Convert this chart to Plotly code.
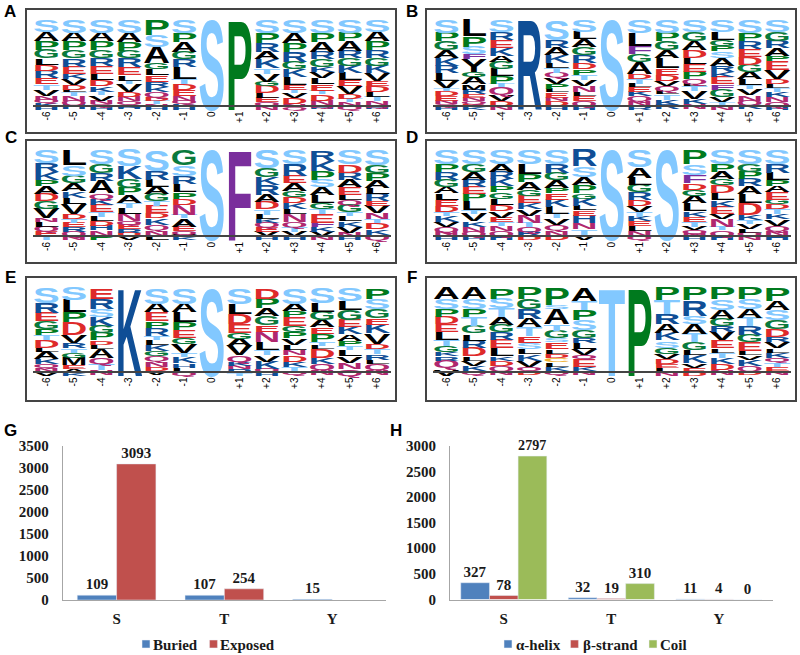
import numpy as np
import plotly.graph_objects as go

POSITIONS = ["-6","-5","-4","-3","-2","-1","0","+1","+2","+3","+4","+5","+6"]

# Sequence logos: letters listed from the top of each stack, heights in percent
A_LETTERS = ["SAPGLDRETVNQKH","SAPGREKVDLTNQH","SAPGRELDKTVNQH","SAPGRELTVDNQKH","PSAGLERKQDTNH","SPAGRLTDENQKH","S","P","SPRAKTVGDLEQN","SAPRGKLETVDNQ","SPARGKVLETDNQH","SPARGKLEVDTNQ","SAPRGKVEDLTNQH"]
A_HEIGHTS = [[13,10,10,10,7,7,8,7,6,7,4,4,4,3],[14,10,10,9,9,8,6,7,5,3,4,5,5,5],[14,10,10,8,9,9,7,7,6,4,6,4,3,3],[14,11,10,8,10,9,6,4,8,6,5,4,3,2],[17,13,18,7,7,7,6,6,5,4,4,3,3],[15,10,11,8,9,13,5,7,7,5,4,3,3],[100],[100],[15,11,10,8,10,6,9,5,8,5,5,4,4],[14,12,10,11,8,9,9,5,4,5,7,3,3],[15,10,11,8,8,6,7,7,7,4,7,5,3,2],[14,10,11,8,8,8,8,7,9,5,4,4,4],[13,11,10,9,8,8,9,6,7,5,5,4,3,2]]

B_LETTERS = ["SPGAKRLVTDENQH","LPSFYGAMRENQDK","SREKAGLPTQVDN","R","SRAKLTQVPLENDH","SLAGRDPTVNLEQH","S","SLFGADTLEKQNR","SPGALEDVQLTKR","SGADLEPQLTVKN","SLGPSARKEFGVTN","SPREDGALTVNQK","SGRAPEVDLTKNQH"]
B_HEIGHTS = [[14,10,10,9,8,8,9,8,3,6,5,4,3,3],[18,12,8,6,14,6,8,6,5,4,4,3,3,3],[13,9,9,9,7,8,8,8,4,9,7,5,4],[100],[22,9,8,9,6,5,5,7,6,4,6,4,5,4],[13,8,9,9,9,7,6,6,7,7,4,6,5,4],[100],[15,14,9,9,13,6,5,4,5,5,6,5,4],[14,10,10,9,11,7,7,6,5,4,6,6,5],[13,10,10,9,7,9,8,5,3,5,9,6,6],[13,9,7,6,7,9,7,6,8,6,8,6,4,4],[14,9,9,9,9,8,8,7,4,7,6,5,5],[13,10,8,9,6,10,10,6,4,4,6,6,5,3]]

C_LETTERS = ["SRKPADGVNLQET","LSGAKLVDTERQN","SGRAQKETLDHNP","SKGPATLNQERDV","SRLAGTEDKQNL","GSRLPDNTAEQVK","S","F","SGKRADTLKQEVH","SREAGDKLNQTVH","RKPSALGTEFKVN","SDRAELQGTLKVNH","SGPALREVNTDKQ"]
C_HEIGHTS = [[14,10,9,7,9,8,8,11,4,5,5,5,5],[17,12,8,9,7,7,11,6,4,5,5,5,4],[16,10,8,14,6,7,8,5,5,5,5,6,5],[18,14,10,8,9,5,7,8,4,5,4,4,4],[23,10,8,8,8,5,8,6,7,6,6,5],[17,12,9,9,7,7,11,4,9,5,4,3,3],[100],[100],[20,10,9,11,8,8,6,5,4,5,5,5,4],[16,13,8,8,7,7,7,5,9,6,5,5,4],[12,11,10,8,9,9,7,5,10,5,5,5,4],[16,9,8,8,9,6,5,8,4,6,6,7,5,3],[17,9,8,8,7,8,5,8,7,4,7,6,6]]

D_LETTERS = ["SPRGALEDTKVQNH","SGAREPLTVKNQH","SARKPGLDVETNQH","SLPAGEKVNTQRD","SRGAPEKLTVQND","RSAPGKLEHNTV","S","SALGRDVTKELNQ","S","PSFDGALKETVQNH","SPAGDLKEVNTQH","SGPRALDKTVLQN","SRLPAEGDTKVQNH"]
D_HEIGHTS = [[15,9,9,8,7,7,7,7,4,7,6,5,5,4],[15,9,9,8,8,8,10,4,8,6,6,5,4],[15,9,8,8,7,7,7,7,7,5,4,6,5,5],[15,12,9,8,7,8,7,7,8,5,5,5,4],[15,10,8,9,6,7,8,8,5,7,6,6,5],[18,12,9,9,6,8,5,6,8,7,6,6],[100],[19,12,8,8,8,7,7,5,5,5,6,6,4],[100],[16,12,9,7,7,8,9,6,6,5,4,4,4,3],[15,9,8,7,9,8,7,8,6,8,4,6,5],[15,9,8,8,9,10,13,6,4,6,4,4,4],[15,10,8,7,7,8,5,6,5,6,7,6,5,5]]

E_LETTERS = ["SREGPTDLAKQNV","SLPDVRTGMEAK","ERSKGPDLAQTN","K","SAEPRTLKGQNDV","SALPEGVTKHLQ","S","SLDEGAVQKNRT","DPAGENLTVKQH","SAPEGPVLNDKTQ","SLGAEPTLDKQN","SLGEKAPTLVNQ","PSGEKVDTRLQN"]
E_HEIGHTS = [[17,11,10,9,7,6,8,5,8,6,5,4,4],[14,14,11,15,9,6,5,6,8,5,4,3],[12,12,9,10,8,9,5,5,10,7,7,6],[100],[18,10,10,8,9,4,6,7,6,6,6,5,5],[18,10,11,9,9,7,10,5,7,5,5,4],[100],[18,12,11,10,7,8,11,7,5,4,4,3],[12,11,9,10,8,12,9,6,7,8,4,4],[18,8,7,10,7,7,8,6,6,7,6,5,5],[17,10,10,8,8,9,4,4,10,7,7,6],[15,10,11,9,8,7,6,5,7,8,7,7],[12,12,10,8,10,12,6,6,6,5,7,6]]

F_LETTERS = ["ASPDELTGKRQV","ASPTGLRDLVKQ","PSTAGRELKDQN","PGRATESLKVQD","PSATGSELDCLKQ","ATPSGRLVQEKN","T","P","PTRAKSGVDELN","PRSATGLKVED","PSAGRVELTKDN","PSATRGELVKQD","PASGDRVLKQTEN"]
F_HEIGHTS = [[13,11,9,8,9,9,7,7,5,5,9,8],[13,11,9,10,9,8,8,10,5,6,6,5],[12,11,10,9,8,9,10,9,5,6,6,5],[13,11,11,10,10,8,7,6,7,7,5,5],[19,5,17,8,8,5,8,5,5,5,5,5,5],[15,10,11,12,9,6,7,7,4,9,5,5],[100],[100],[14,16,11,10,9,8,7,6,6,5,4,4],[14,18,9,11,10,9,6,9,5,5,4],[13,12,10,8,7,10,9,5,6,7,7,6],[13,11,10,10,10,8,10,5,5,7,6,5],[15,10,12,10,9,6,7,5,6,5,5,5,5]]

# Bar charts
RESIDUES = ["S","T","Y"]
BURIED = [109,107,15]
EXPOSED = [3093,254,None]
HELIX = [327,32,11]
STRAND = [78,19,4]
COIL = [2797,310,0]

W, H = 800, 655
LETTER_COLORS = {"S":"#82C8FF","T":"#82C8FF","R":"#0F4E96","K":"#0F4E96","H":"#0F4E96",
                 "P":"#007A1E","G":"#0A7A3C","A":"#000000","V":"#000000","L":"#000000","M":"#000000",
                 "I":"#000000","Y":"#000000","E":"#DE2A2A","D":"#DE2A2A","F":"#7A2E9C",
                 "N":"#B0276F","Q":"#B0276F","C":"#F0B030"}

def xdom(a, b): return [a / W, b / W]
def ydom(top, bot): return [1 - bot / H, 1 - top / H]

PANELS = [
    ("A", A_LETTERS, A_HEIGHTS, 26, 9, 133, 15, 104.5),
    ("B", B_LETTERS, B_HEIGHTS, 426, 9, 133, 15, 104.5),
    ("C", C_LETTERS, C_HEIGHTS, 26, 140, 263, 145, 235),
    ("D", D_LETTERS, D_HEIGHTS, 426, 140, 263, 145, 235),
    ("E", E_LETTERS, E_HEIGHTS, 26, 277, 401, 283, 370.5),
    ("F", F_LETTERS, F_HEIGHTS, 426, 277, 401, 283, 370.5),
]

fig = go.Figure()
layout = dict(width=W, height=H, margin=dict(l=0, r=0, t=0, b=0, autoexpand=False), autosize=False,
              paper_bgcolor="white", plot_bgcolor="rgba(0,0,0,0)", shapes=[], annotations=[],
              hovermode=False)

for n, (name, letters, heights, fx, ftop, fbot, ltop, lbot) in enumerate(PANELS, start=1):
    xs, ys, txt, hs, cols = [], [], [], [], []
    for pos, col_letters, col_heights in zip(POSITIONS, letters, heights):
        bottom = 100 - sum(col_heights)
        for ch, h in zip(reversed(col_letters), reversed(col_heights)):
            xs.append(pos); ys.append(bottom + h / 2); txt.append(ch); hs.append(h)
            cols.append(LETTER_COLORS[ch])
            bottom += h
    sfx = "" if n == 1 else str(n)
    fig.add_trace(go.Scatter(x=xs, y=ys, text=txt, customdata=hs, mode="text",
                             textposition="middle center", cliponaxis=False,
                             textfont=dict(family="Liberation Sans", size=20, weight="bold", color=cols),
                             showlegend=False, hoverinfo="skip", name="Logo " + name,
                             xaxis="x" + sfx, yaxis="y" + sfx))
    layout["xaxis" + sfx] = dict(domain=xdom(fx + 6.5, fx + 365), anchor="y" + sfx, type="category",
                                 categoryorder="array", categoryarray=POSITIONS, range=[-0.5, 12.5],
                                 showline=True, linecolor="#444444", linewidth=2, showgrid=False,
                                 tickangle=-90, ticks="outside", ticklen=1, tickcolor="rgba(0,0,0,0)",
                                 tickfont=dict(family="Liberation Sans", size=10, color="#000000"))
    layout["yaxis" + sfx] = dict(domain=ydom(ltop, lbot), anchor="x" + sfx, range=[0, 100],
                                 visible=False, showgrid=False, zeroline=False)
    layout["shapes"].append(dict(type="rect", xref="paper", yref="paper",
                                 x0=fx / W, x1=(fx + 370) / W, y0=1 - fbot / H, y1=1 - ftop / H,
                                 line=dict(color="#444444", width=2), fillcolor="rgba(0,0,0,0)", layer="below"))

SERIF = dict(family="Liberation Serif", size=15, weight="bold", color="#1a1a1a")

def bars(name, vals, color, xa, ya, leg, width, offset):
    fig.add_trace(go.Bar(x=RESIDUES, y=vals, name=name, marker_color=color, width=width, offset=offset,
                         text=["" if v is None else str(v) for v in vals], textposition="outside",
                         textfont=SERIF, cliponaxis=False, xaxis=xa, yaxis=ya, legend=leg))

bars("Buried", BURIED, "#4F81BD", "x7", "y7", "legend", 0.365, -0.365)
bars("Exposed", EXPOSED, "#C0504D", "x7", "y7", "legend", 0.365, 0)
bars("α-helix", HELIX, "#4F81BD", "x8", "y8", "legend2", 0.267, -0.4)
bars("β-strand", STRAND, "#C0504D", "x8", "y8", "legend2", 0.267, -0.133)
bars("Coil", COIL, "#9BBB59", "x8", "y8", "legend2", 0.267, 0.133)

bar_x = dict(type="category", showline=True, linecolor="#a6a6a6", linewidth=1, showgrid=False,
             ticks="outside", ticklen=5, tickcolor="rgba(0,0,0,0)", tickfont=SERIF)
bar_y = dict(showline=True, linecolor="#a6a6a6", linewidth=1, showgrid=False, zeroline=False,
             ticks="outside", ticklen=10, tickcolor="rgba(0,0,0,0)", tickfont=SERIF, dtick=500)
layout["xaxis7"] = dict(bar_x, domain=xdom(62.7, 386), anchor="y7")
layout["yaxis7"] = dict(bar_y, domain=ydom(446, 600), anchor="x7", range=[0, 3500])
layout["xaxis8"] = dict(bar_x, domain=xdom(450, 772.7), anchor="y8")
layout["yaxis8"] = dict(bar_y, domain=ydom(445.7, 599.5), anchor="x8", range=[0, 3000])

# Whole-canvas hidden axes for the panel letters
layout["xaxis9"] = dict(domain=[0, 1], range=[0, W], visible=False, anchor="y9", fixedrange=True)
layout["yaxis9"] = dict(domain=[0, 1], range=[H, 0], visible=False, anchor="x9", fixedrange=True)

LEGEND_FONT = dict(family="Liberation Serif", size=15, weight="bold", color="#1a1a1a")
layout["legend"] = dict(orientation="h", x=0.1, xanchor="left", y=0.06, yanchor="bottom",
                        font=LEGEND_FONT, bgcolor="rgba(0,0,0,0)", traceorder="normal")
layout["legend2"] = dict(orientation="h", x=0.6, xanchor="left", y=0.06, yanchor="bottom",
                         font=LEGEND_FONT, bgcolor="rgba(0,0,0,0)", traceorder="normal")

PANEL_LABELS = [("A",10,11),("B",412,11),("C",10.5,137),("D",412,137),("E",10,277),("F",412,277),("G",10,430),("H",396,430)]
for t, px, py in PANEL_LABELS:
    layout["annotations"].append(dict(text=t, x=px, y=py, xref="x9", yref="y9",
                                      showarrow=False, xanchor="center", yanchor="middle",
                                      font=dict(family="Liberation Sans", size=17, weight="bold", color="black")))

fig.update_layout(**layout)

# Stretch each logo letter to fill its own cell; tighten the legend rows
POST = """
var gd = document.getElementById('{plot_id}');
document.body.style.margin = '0';
var CAP = 0.70, FILL = 0.97;
gd._fullData.forEach(function (tr) {
  if (tr.type !== 'scatter') return;
  var xa = gd._fullLayout[tr.xaxis.replace('x', 'xaxis')], ya = gd._fullLayout[tr.yaxis.replace('y', 'yaxis')];
  var cell = xa._length / 13 * FILL;
  var els = gd.querySelectorAll('.subplot.' + tr.xaxis + tr.yaxis + ' .scatterlayer .textpoint text');
  els.forEach(function (el, i) {
    var w = el.getComputedTextLength();
    var h = ya._length * tr.customdata[i] / 100;
    var px = xa.c2p(xa.categoryarray.indexOf(String(tr.x[i])));
    var py = ya.d2p(tr.y[i]) + h / 2;
    var sx = cell / w, sy = h / (CAP * tr.textfont.size);
    el.setAttribute('x', 0); el.setAttribute('y', 0); el.removeAttribute('dy');
    el.setAttribute('text-anchor', 'middle');
    el.setAttribute('transform', 'translate(' + px + ',' + py + ') scale(' + sx + ',' + sy + ')');
  });
});
var ROWS = {legend: [[146, 153], [213.5, 220]], legend2: [[508, 516], [574.5, 583], [653, 660]]};
Object.keys(ROWS).forEach(function (id) {
  var g = gd.querySelector('g.' + id);
  if (!g) return;
  g.setAttribute('transform', 'translate(0,0)');
  var box = g.querySelector('.scrollbox');
  if (box) { box.removeAttribute('clip-path'); box.setAttribute('transform', 'translate(0,0)'); }
  var grp = g.querySelector('.groups');
  if (grp) grp.setAttribute('transform', 'translate(0,0)');
  g.querySelectorAll('.groups .traces').forEach(function (t, i) {
    t.setAttribute('transform', 'translate(0,644)');
    var r = ROWS[id][i];
    var sw = t.querySelector('.legendpoints path');
    if (sw) sw.setAttribute('transform', 'translate(' + r[0] + ',0) scale(0.65)');
    var tx = t.querySelector('text');
    if (tx) tx.setAttribute('transform', 'translate(' + (r[1] - tx.getBBox().x) + ',0)');
  });
});
"""
fig.write_html("out.html", post_script=POST, config=dict(displayModeBar=False))
